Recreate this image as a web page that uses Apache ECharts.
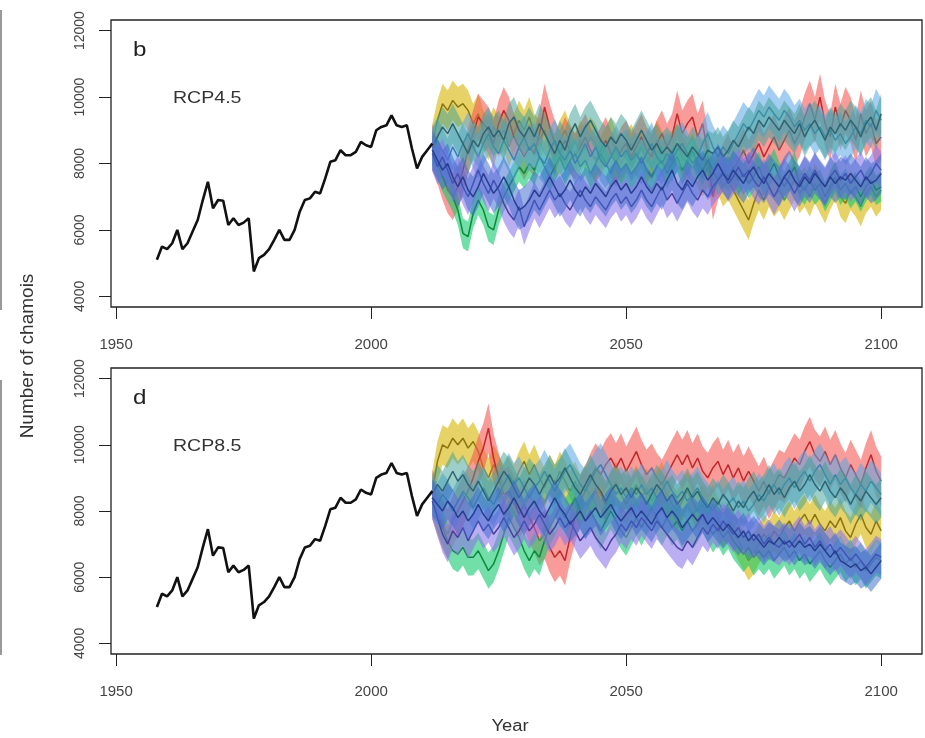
<!DOCTYPE html>
<html>
<head>
<meta charset="utf-8">
<script src="https://cdn.jsdelivr.net/npm/echarts@6/dist/echarts.min.js"></script>
<style>
  html, body { margin: 0; padding: 0; background: #fff; }
  #chart { width: 925px; height: 738px; }
</style>
</head>
<body>
<div id="chart"></div>
<script>
// observed counts
const histYears = [1958,1959,1960,1961,1962,1963,1964,1965,1966,1967,1968,1969,1970,1971,1972,1973,1974,1975,1976,1977,
  1978,1979,1980,1981,1982,1983,1984,1985,1986,1987,1988,1989,1990,1991,1992,1993,1994,1995,1996,1997,
  1998,1999,2000,2001,2002,2003,2004,2005,2006,2007,2008,2009,2010,2011,2012]
const histCount = [5100,5500,5420,5600,6000,5420,5600,5950,6300,6900,7450,6650,6900,6880,6150,6350,6150,6220,6350,4750,
  5150,5250,5420,5700,6000,5700,5700,6000,6550,6900,6950,7150,7100,7550,8050,8100,8400,8250,8250,8350,
  8650,8550,8500,9000,9100,9150,9450,9150,9100,9150,8450,7850,8200,8400,8600]

// projection years
const projYears = [2012,2013,2014,2015,2016,2017,2018,2019,2020,2021,2022,2023,2024,2025,2026,2027,2028,2029,2030,2031,
  2032,2033,2034,2035,2036,2037,2038,2039,2040,2041,2042,2043,2044,2045,2046,2047,2048,2049,2050,2051,
  2052,2053,2054,2055,2056,2057,2058,2059,2060,2061,2062,2063,2064,2065,2066,2067,2068,2069,2070,2071,
  2072,2073,2074,2075,2076,2077,2078,2079,2080,2081,2082,2083,2084,2085,2086,2087,2088,2089,2090,2091,
  2092,2093,2094,2095,2096,2097,2098,2099,2100]

// RCP4.5 medians
const red45 = [8500,8100,7600,7200,7000,7300,7800,8400,8900,9400,
  9200,9000,8600,9200,9600,9300,8800,8500,8200,8500,
  8300,8900,9700,9100,8600,8300,8700,8400,8200,8500,
  8800,8400,8100,8400,8700,8300,8000,8400,8600,8200,
  8500,8800,8400,8200,8600,8900,8500,8800,9500,8900,
  9200,9400,8800,9200,8300,7000,7600,7900,8200,7800,
  8100,8400,8000,8300,8600,8200,8500,8800,8400,8700,
  9000,8600,8900,9400,9800,9300,10000,9200,8800,9700,
  9100,9600,9300,8700,9500,8900,9200,8600,8800]
const gold45 = [8600,9300,9800,9600,9900,9700,9800,9600,9200,9500,
  9000,8700,9100,8800,9000,8500,8900,9300,9000,9400,
  8900,8700,9000,8500,8200,8700,9000,8600,8300,8700,
  8400,8800,8600,8200,8500,8800,8400,8000,8300,8600,
  8200,8500,8000,8300,8700,8400,8100,8400,8600,8200,
  8000,8300,7900,7600,7900,7500,7700,7300,7500,7200,
  6900,6600,6300,6800,7200,6900,7300,7000,7200,6900,
  7200,7500,7100,7300,7000,7400,7100,6800,7200,7500,
  7000,6800,7200,7000,6700,7100,7300,7000,7200]
const green45 = [8400,8000,7600,7300,7000,6600,5900,5800,6500,6900,
  6600,6100,6000,6600,7000,7300,7600,7900,7700,8000,
  7800,8200,7900,7600,7900,8200,7800,8100,8300,7900,
  8100,7700,8000,8300,8000,7700,8100,7800,8000,7700,
  7900,8200,7800,7600,7900,8100,7700,8000,8200,7800,
  8100,8400,8000,7800,8100,7800,7500,7800,7600,7900,
  7500,7700,7400,7600,7900,7500,7700,8000,7600,7300,
  7600,7900,7400,7200,7500,7200,7400,7000,7300,7600,
  7200,7400,7100,7300,7000,7300,7500,7200,7300]
const teal45 = [8500,8800,9100,8900,9200,8900,8600,8300,8700,8500,
  8900,9100,8800,9000,8700,9200,9400,9000,8800,9100,
  8800,9200,8900,8600,8300,8700,8400,8900,9200,8800,
  9100,9300,9000,8700,8500,8800,8600,8900,8700,8400,
  8700,9000,8700,8400,8600,8300,8500,8300,8600,8400,
  8200,8500,8300,8100,8400,8300,8500,8200,8400,8700,
  8500,8800,9100,8900,9300,9100,9400,9200,9000,9300,
  9100,8900,9200,8800,9100,9300,9000,8700,9100,8900,
  9200,9000,9300,9100,8800,9200,9400,9000,9500]
const sky45 = [8400,8700,8400,8100,8500,8200,8600,8900,8500,8200,
  8600,8900,8500,8300,8700,8400,8100,8500,8800,8400,
  8600,8200,8000,8400,8700,8300,8100,8400,8000,8300,
  8600,8200,8500,8100,7900,8200,8500,8200,8400,8100,
  8300,8000,8300,8600,8200,8000,8300,8100,8400,8600,
  8300,8000,8200,8600,8900,8500,8200,8500,8300,8600,
  8900,9200,9000,9300,9600,9400,9700,9500,9300,9600,
  9400,9100,9300,9000,9200,8900,9100,8800,9000,8700,
  8900,8600,8800,9100,8900,9300,9100,9600,9300]
const purple45 = [8300,7900,8200,7800,7400,7700,7300,7000,7400,7800,
  7400,7100,7500,7200,6800,6500,6300,6700,6100,6500,
  6900,6600,6900,7200,6900,7100,6800,6600,6900,7200,
  6900,6700,7000,6800,6600,6900,7100,6800,7000,6700,
  6900,7200,6900,6700,7000,7300,6900,7100,6800,7100,
  7400,7100,6900,7200,7000,7300,7500,7700,7400,7600,
  7900,7600,7800,7500,7300,7600,7300,7000,7300,7600,
  7400,7100,7400,7700,7500,7800,7500,7300,7600,7800,
  7500,7700,7400,7600,7800,7500,7700,8000,7800]
const blue45 = [8400,8100,7800,8000,7600,7300,7600,7200,7000,7300,
  7700,7400,7100,7300,7600,7300,6900,6600,6700,6900,
  7200,7000,7300,7600,7300,7000,7200,7500,7200,7000,
  7300,7100,7400,7200,7000,7300,7500,7200,7400,7100,
  7300,7600,7300,7100,7400,7200,7500,7800,7400,7200,
  7500,7300,7600,7800,7500,7700,8000,7700,7500,7800,
  7600,7400,7700,7900,7600,7400,7700,7500,7300,7600,
  7800,7500,7300,7600,7400,7700,7500,7300,7600,7400,
  7600,7500,7700,7500,7300,7600,7400,7500,7700]

// RCP8.5 medians
const red85 = [8500,8000,7600,7300,7700,8000,8300,8600,9000,9500,
  9900,10500,9600,9000,8500,8600,8300,7900,8200,7800,
  7500,7100,7300,6900,6600,6800,6500,7200,7800,8300,
  8600,9000,9300,9100,9400,9600,9300,9600,9200,9500,
  9800,9400,9100,9300,9000,8800,9100,9400,9700,9400,
  9700,9300,9600,9200,9000,9300,9500,9100,9400,9000,
  9300,8900,9200,8900,8600,8900,8500,8800,9100,9000,
  9300,9600,9400,9800,10100,9700,9500,9800,9400,9700,
  9300,9000,9400,9100,8800,9300,9700,9200,8900]
const gold85 = [8600,9500,10000,9900,10200,10000,10200,9900,10100,9800,
  9300,9000,9400,9100,8800,9100,8800,9200,9500,9100,
  9400,9000,8700,9100,8800,9200,8900,8600,8900,8500,
  8800,8400,8700,8500,8200,8600,8900,8500,8200,8500,
  8800,8400,8700,8300,8600,8900,8500,8200,8000,8300,
  8600,8300,8000,8200,7900,8200,7800,7500,7700,7400,
  7100,6800,6500,6700,7000,7300,7100,7400,7200,7500,
  7700,7400,7700,7900,7600,7900,7600,7400,7700,7500,
  7800,7400,7200,7600,7900,7500,7300,7700,7400]
const green85 = [8400,7900,7500,7100,6800,6700,6900,6600,6600,6800,
  6500,6200,6400,6800,7300,7800,7500,7200,6800,6500,
  6800,6600,7100,7500,7800,8100,7800,8100,8400,8000,
  7700,8000,7700,7400,7700,8000,7700,7400,7200,7500,
  7800,7500,7800,8100,7800,7500,7800,7500,7700,7400,
  7700,7400,7600,7900,7600,7300,7500,7200,7400,7100,
  6900,6700,6900,6600,6800,6600,6800,6500,6700,6900,
  6600,6800,6500,6700,6400,6600,6800,6500,6300,6500,
  6700,6400,6600,6300,6500,6200,6400,6600,6500]
const teal85 = [8500,8800,8600,8900,9200,8900,9100,8800,8600,8900,
  8600,8300,8600,8900,9200,9000,8700,8400,8700,9000,
  8800,8500,8800,9100,8800,9000,9300,9000,8700,8500,
  8800,9100,8800,8600,8300,8600,8800,8500,8700,8400,
  8700,8500,8200,8500,8800,8600,8300,8500,8200,8400,
  8700,8400,8600,8300,8100,8400,8200,8500,8300,8000,
  8300,8100,8400,8600,8300,8500,8800,8500,8700,8400,
  8700,8900,8600,8800,9100,8800,8600,8900,8600,8400,
  8700,8500,8200,8500,8300,8600,8400,8200,8400]
const sky85 = [8400,8200,8500,8300,8000,8300,8600,8400,8100,8400,
  8700,8400,8200,8500,8800,9100,8800,9000,8700,8400,
  8700,8900,9200,8900,8600,8900,9200,9400,9100,8800,
  8600,8900,9200,9400,9100,8800,8500,8700,8400,8700,
  8500,8800,8500,8700,8400,8600,8900,8600,8400,8600,
  8300,8500,8700,8400,8200,8000,8300,8000,8200,8400,
  8100,8300,8000,8200,8500,8300,8600,8800,8500,8800,
  9000,8700,9000,9200,8900,9200,9400,9100,8800,9100,
  8800,9000,8700,8500,8800,8600,8900,8700,8500]
const purple85 = [8300,7800,7300,7000,7400,7200,7500,7100,7400,7700,
  7400,7600,7300,7500,7800,7500,7200,7400,7700,7400,
  7600,7900,7600,7300,7500,7800,7500,7700,7400,7100,
  7300,7500,7200,7000,6800,7100,7300,7600,7400,7700,
  7500,7800,7600,7400,7700,7500,7300,7100,6900,6800,
  7100,6900,7200,7500,7300,7600,7400,7700,7500,7300,
  7500,7200,7400,7100,7300,7000,7200,7000,6900,7100,
  6900,7100,7300,7000,7200,6900,7100,6800,7000,6700,
  6900,6700,6500,6700,6500,6300,6500,6700,6600]
const blue85 = [8400,8200,8000,8300,8100,7800,8000,7700,7900,8200,
  7900,7700,8000,8200,7900,8100,8400,8100,7800,8100,
  8300,8000,7800,8100,8400,8100,7900,7600,7800,8000,
  7700,7900,8100,7800,8000,8200,7900,7700,7900,8100,
  7800,8000,7800,7600,7900,8100,7800,8000,7800,7500,
  7700,7900,7700,7900,7600,7800,7600,7400,7600,7400,
  7200,7400,7100,7300,7100,6900,7100,7000,7200,7000,
  7100,6900,7100,6900,7000,6800,7000,6800,6600,6800,
  6500,6400,6300,6400,6200,6300,6100,6300,6500]

// band half-widths
const spread45 = { gold: 600, red: 700, green: 450, sky: 650, teal: 600, purple: 550, blue: 600 }
const spread85 = { gold: 600, red: 750, green: 550, sky: 650, teal: 600, purple: 550, blue: 550 }

const xTicks = [1950, 2000, 2050, 2100]
const yTicks = [4000, 6000, 8000, 10000, 12000]

const fillColor = {
  gold: 'rgba(214,182,10,0.62)',
  red: 'rgba(245,90,85,0.6)',
  green: 'rgba(20,200,110,0.6)',
  sky: 'rgba(90,165,230,0.55)',
  teal: 'rgba(60,160,150,0.5)',
  purple: 'rgba(140,115,235,0.58)',
  blue: 'rgba(60,105,205,0.52)',
}
const lineColor = {
  gold: '#8C7410', red: '#C0282E', green: '#0A8A3A', sky: '#3F7DB5',
  teal: '#2F6470', purple: '#4A3FA0', blue: '#283E8E',
}

const font = 'Arial, "Liberation Sans", sans-serif'

const chart = echarts.init(document.getElementById('chart'))

// ribbon around a median, drawn as one polygon through the axes
const band = (idx, mid, half, fill, z) => ({
  type: 'custom',
  xAxisIndex: idx,
  yAxisIndex: idx,
  silent: true,
  z: z,
  data: [[projYears[0], mid[0]]],
  renderItem: (params, api) => {
    const pts = projYears.map((y, i) => api.coord([y, mid[i] + half]))
    for (let i = projYears.length - 1; i >= 0; i--) {
      pts.push(api.coord([projYears[i], mid[i] - half]))
    }
    return { type: 'polygon', shape: { points: pts }, style: { fill: fill } }
  },
})

const median = (idx, mid, color, z) => ({
  type: 'line',
  xAxisIndex: idx,
  yAxisIndex: idx,
  silent: true,
  z: z,
  showSymbol: false,
  data: projYears.map((y, i) => [y, mid[i]]),
  lineStyle: { color: color, width: 1.5 },
})

const observed = (idx) => ({
  type: 'line',
  xAxisIndex: idx,
  yAxisIndex: idx,
  silent: true,
  z: 40,
  showSymbol: false,
  data: histYears.map((y, i) => [y, histCount[i]]),
  lineStyle: { color: '#111', width: 2.6 },
})

// each ribbon is followed by its median, so later ribbons veil earlier lines
const panel = (idx, sets, spread) => {
  const out = []
  const order = ['gold', 'red', 'green', 'sky', 'teal', 'purple', 'blue']
  order.forEach((k, j) => {
    out.push(band(idx, sets[k], spread[k], fillColor[k], 2 + j * 2))
    out.push(median(idx, sets[k], lineColor[k], 3 + j * 2))
  })
  out.push(observed(idx))
  return out
}

const xAxisFor = (idx) => ({
  type: 'value',
  gridIndex: idx,
  min: 1949,
  max: 2108,
  splitLine: { show: false },
  axisLine: { show: false },
  axisTick: { show: true, inside: false, length: 12, customValues: xTicks, lineStyle: { color: '#222' } },
  axisLabel: { customValues: xTicks, margin: 30, fontSize: 15, fontFamily: font, color: '#444', formatter: v => String(v) },
})

const yAxisFor = (idx) => ({
  type: 'value',
  gridIndex: idx,
  min: 3680,
  max: 12320,
  splitLine: { show: false },
  axisLine: { show: false },
  axisTick: { show: true, inside: false, length: 12, customValues: yTicks, lineStyle: { color: '#222' } },
  axisLabel: { customValues: yTicks, rotate: 90, margin: 24, fontSize: 14, fontFamily: font, color: '#444', formatter: v => String(v) },
})

const option = {
  backgroundColor: '#fff',
  animation: false,
  grid: [
    { left: 111, right: 3, top: 20, height: 287, show: true, borderColor: '#222', borderWidth: 1.3 },
    { left: 111, right: 3, top: 368, height: 286, show: true, borderColor: '#222', borderWidth: 1.3 },
  ],
  xAxis: [xAxisFor(0), xAxisFor(1)],
  yAxis: [yAxisFor(0), yAxisFor(1)],
  graphic: [
    { type: 'text', x: 133, y: 50, scaleX: 1.15, style: { text: 'b', font: '21px ' + font, fill: '#222', textVerticalAlign: 'middle' } },
    { type: 'text', x: 173, y: 98, scaleX: 1.15, style: { text: 'RCP4.5', font: '17px ' + font, fill: '#333', textVerticalAlign: 'middle' } },
    { type: 'text', x: 133, y: 398, scaleX: 1.15, style: { text: 'd', font: '21px ' + font, fill: '#222', textVerticalAlign: 'middle' } },
    { type: 'text', x: 173, y: 446, scaleX: 1.15, style: { text: 'RCP8.5', font: '17px ' + font, fill: '#333', textVerticalAlign: 'middle' } },
    { type: 'text', x: 28, y: 356, rotation: Math.PI / 2, style: { text: 'Number of chamois', font: '19px ' + font, fill: '#333', textAlign: 'center', textVerticalAlign: 'middle' } },
    { type: 'text', x: 510, y: 727, scaleX: 1.15, style: { text: 'Year', font: '16px ' + font, fill: '#333', textAlign: 'center', textVerticalAlign: 'middle' } },
    { type: 'line', shape: { x1: 1, y1: 10, x2: 1, y2: 310 }, style: { stroke: '#777', lineWidth: 1.5 } },
    { type: 'line', shape: { x1: 1, y1: 380, x2: 1, y2: 655 }, style: { stroke: '#777', lineWidth: 1.5 } },
  ],
  series: [
    ...panel(0, { gold: gold45, red: red45, green: green45, sky: sky45, teal: teal45, purple: purple45, blue: blue45 }, spread45),
    ...panel(1, { gold: gold85, red: red85, green: green85, sky: sky85, teal: teal85, purple: purple85, blue: blue85 }, spread85),
  ],
}

chart.setOption(option)
</script>
</body>
</html>
